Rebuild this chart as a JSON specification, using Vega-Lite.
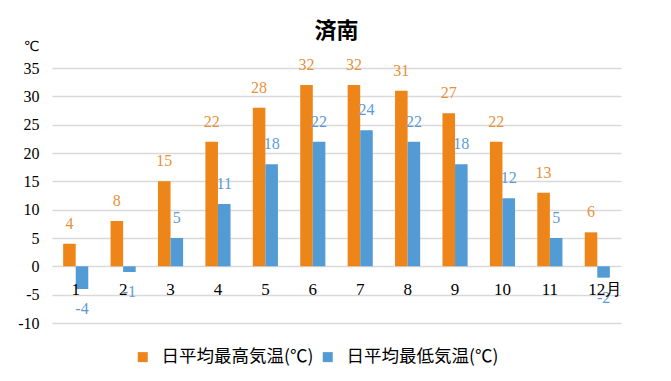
{
  "$schema": "https://vega.github.io/schema/vega-lite/v6.json",
  "width": 569,
  "height": 255,
  "autosize": "none",
  "padding": {"left": 52, "top": 68, "right": 50, "bottom": 58},
  "background": "white",
  "config": {"view": {"stroke": null}},
  "title": {"text": "済南", "font": "Noto Sans CJK JP", "fontSize": 22, "fontWeight": "bold", "color": "#000000", "anchor": "middle", "offset": -4},
  "data": {"values": [
    {"month": 1, "series": "日平均最高気温(℃)", "value": 4},
    {"month": 2, "series": "日平均最高気温(℃)", "value": 8},
    {"month": 3, "series": "日平均最高気温(℃)", "value": 15},
    {"month": 4, "series": "日平均最高気温(℃)", "value": 22},
    {"month": 5, "series": "日平均最高気温(℃)", "value": 28},
    {"month": 6, "series": "日平均最高気温(℃)", "value": 32},
    {"month": 7, "series": "日平均最高気温(℃)", "value": 32},
    {"month": 8, "series": "日平均最高気温(℃)", "value": 31},
    {"month": 9, "series": "日平均最高気温(℃)", "value": 27},
    {"month": 10, "series": "日平均最高気温(℃)", "value": 22},
    {"month": 11, "series": "日平均最高気温(℃)", "value": 13},
    {"month": 12, "series": "日平均最高気温(℃)", "value": 6},
    {"month": 1, "series": "日平均最低気温(℃)", "value": -4},
    {"month": 2, "series": "日平均最低気温(℃)", "value": -1},
    {"month": 3, "series": "日平均最低気温(℃)", "value": 5},
    {"month": 4, "series": "日平均最低気温(℃)", "value": 11},
    {"month": 5, "series": "日平均最低気温(℃)", "value": 18},
    {"month": 6, "series": "日平均最低気温(℃)", "value": 22},
    {"month": 7, "series": "日平均最低気温(℃)", "value": 24},
    {"month": 8, "series": "日平均最低気温(℃)", "value": 22},
    {"month": 9, "series": "日平均最低気温(℃)", "value": 18},
    {"month": 10, "series": "日平均最低気温(℃)", "value": 12},
    {"month": 11, "series": "日平均最低気温(℃)", "value": 5},
    {"month": 12, "series": "日平均最低気温(℃)", "value": -2}
  ]},
  "encoding": {
    "x": {
      "field": "month", "type": "ordinal",
      "scale": {"paddingInner": 0.47, "paddingOuter": 0.235},
      "axis": {
        "title": null, "orient": "bottom", "offset": -56.7, "domain": false, "ticks": false, "grid": false,
        "labelAngle": 0, "labelFont": "Liberation Serif", "labelFontSize": 17, "labelColor": "#000000",
        "labelBaseline": "top", "labelPadding": 15, "zindex": 1,
        "labelExpr": "datum.value == 12 ? '12月' : datum.label",
        "labelOffset": {"condition": {"test": "datum.value == 12", "value": 8}, "value": 0}
      }
    },
    "xOffset": {"field": "series", "type": "nominal", "sort": ["日平均最高気温(℃)", "日平均最低気温(℃)"], "scale": {"paddingInner": 0, "paddingOuter": 0}},
    "y": {
      "field": "value", "type": "quantitative",
      "scale": {"domain": [-10, 35], "nice": false, "zero": false},
      "axis": {
        "title": "℃", "titleAngle": 0, "titleX": -21, "titleY": -22, "titleAlign": "center", "titleBaseline": "middle",
        "titleFont": "DejaVu Sans", "titleFontSize": 14, "titleFontWeight": "normal", "titleColor": "#000000",
        "values": [-10, -5, 0, 5, 10, 15, 20, 25, 30, 35],
        "labelExpr": "'' + datum.value",
        "domain": false, "ticks": false, "grid": true, "gridColor": "#D9D9D9", "gridWidth": 1.5,
        "labelFont": "Liberation Serif", "labelFontSize": 16, "labelColor": "#000000", "labelPadding": 13
      }
    }
  },
  "layer": [
    {
      "mark": {"type": "bar"},
      "encoding": {
        "color": {
          "field": "series", "type": "nominal",
          "scale": {"domain": ["日平均最高気温(℃)", "日平均最低気温(℃)"], "range": ["#EE8519", "#539BD5"]},
          "legend": {
            "orient": "none", "legendX": 82, "legendY": 280, "direction": "horizontal", "title": null,
            "symbolType": "square", "symbolSize": 100, "symbolStrokeWidth": 0,
            "labelFont": "Noto Sans CJK JP", "labelFontSize": 17.5, "labelColor": "#000000", "labelLimit": 300,
            "columnPadding": 5, "labelOffset": 10
          }
        }
      }
    },
    {
      "transform": [{"filter": "datum.value >= 0"}],
      "mark": {"type": "text", "dy": -20, "baseline": "middle", "font": "Liberation Serif", "fontSize": 16},
      "encoding": {
        "text": {"field": "value", "type": "nominal"},
        "color": {"condition": {"test": "datum.series == '日平均最高気温(℃)'", "value": "#E8913A"}, "value": "#5B9BD5"}
      }
    },
    {
      "transform": [{"filter": "datum.value < 0"}],
      "mark": {"type": "text", "dy": 20, "baseline": "middle", "font": "Liberation Serif", "fontSize": 16},
      "encoding": {
        "text": {"field": "value", "type": "nominal"},
        "color": {"condition": {"test": "datum.series == '日平均最高気温(℃)'", "value": "#E8913A"}, "value": "#5B9BD5"}
      }
    }
  ]
}
